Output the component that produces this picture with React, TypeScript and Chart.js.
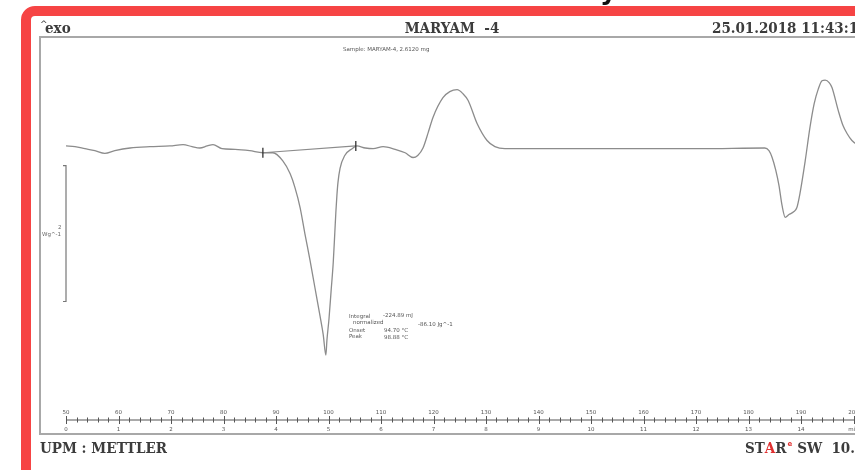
import React, { useEffect, useRef } from "react";
import { Chart, registerables } from "chart.js";

Chart.register(...registerables);

// DSC curve: temperature (°C) and heat flow (W/g)
const temperatures = [
  50.0, 51.7, 53.6, 55.5, 57.4, 59.3, 62.2, 66.0, 69.8, 72.3, 74.0, 75.5, 76.9, 78.0, 79.7, 82.2, 85.0,
  87.5, 89.4, 91.3, 92.7, 93.6, 94.6, 95.5, 96.5, 97.4, 98.4, 99.0, 99.5,
  99.7, 100.1, 100.5, 100.9, 101.2, 101.4, 101.6, 101.8, 102.2, 103.1, 104.5, 105.4,
  107.0, 108.5, 110.4, 112.7, 114.6, 116.1, 117.0, 118.0, 119.0, 119.9, 121.8,
  123.1, 124.5, 125.6, 126.6, 128.3, 130.2, 131.7, 133.6, 147.9, 155.5, 170.8,
  183.1, 183.9, 184.5, 185.2, 185.8, 186.4, 187.0, 187.7, 188.6, 189.2, 189.8,
  190.8, 191.7, 192.5, 193.3, 194.0, 194.6, 195.4, 195.9, 197.1, 198.0, 198.8, 199.7, 200.7, 201.6,
];
const heatFlow = [
  0.04, 0.03, 0.0, -0.03, -0.07, -0.03, 0.01, 0.03, 0.04, 0.06, 0.03, 0.01, 0.04, 0.06, 0.0, -0.01, -0.03,
  -0.06, -0.06, -0.18, -0.37, -0.57, -0.87, -1.25, -1.65, -2.04, -2.47, -2.74, -3.04,
  -2.82, -2.5, -2.09, -1.68, -1.24, -0.94, -0.69, -0.5, -0.29, -0.1, 0.0, 0.04,
  0.01, 0.0, 0.03, -0.01, -0.06, -0.13, -0.1, 0.01, 0.24, 0.46, 0.75,
  0.84, 0.87, 0.81, 0.71, 0.37, 0.12, 0.03, 0.0, 0.0, 0.0, 0.0,
  0.01, -0.03, -0.13, -0.32, -0.54, -0.84, -1.01, -0.97, -0.93, -0.87, -0.66,
  -0.18, 0.31, 0.66, 0.88, 1.0, 1.01, 0.97, 0.9, 0.56, 0.34, 0.22, 0.12, 0.06, 0.03,
];
// integration baseline (onset / end limits)
const baselineT = [87.5, 105.2];
const baselineV = [-0.06, 0.04];

// axis ticks
const tempTicks = [50, 60, 70, 80, 90, 100, 110, 120, 130, 140, 150, 160, 170, 180, 190, 200];
const timeLabels = ["0", "1", "2", "3", "4", "5", "6", "7", "8", "9", "10", "11", "12", "13", "14", "min"];
const minorStep = 2;

// text
const titleText = "MARYAM  -4";
const dateText = "25.01.2018 11:43:1";
const sampleText = "Sample: MARYAM-4, 2.6120 mg";
const footerLeft = "UPM : METTLER";
const annotationLabels = ["Integral", "normalized", "Onset", "Peak"];
const annotationValues = ["-224.89 mJ", "-86.10 Jg^-1", "94.70 °C", "98.88 °C"];
const scaleBarRange = [-0.25, -2.25]; // 2 W/g

const HEAD = '"DejaVu Serif Condensed", "DejaVu Serif", serif';
const SMALL = '"DejaVu Sans", "Liberation Sans", sans-serif';

const decor = {
  id: "decor",
  beforeDraw(chart: any) {
    const ctx = chart.ctx;
    ctx.save();
    ctx.fillStyle = "#ffffff";
    ctx.fillRect(0, 0, chart.width, chart.height);
    ctx.restore();
  },
  afterDraw(chart: any) {
    const ctx = chart.ctx;
    const xs = chart.scales.x;
    const ys = chart.scales.y;
    ctx.save();

    // black glyph fragment above the frame
    ctx.fillStyle = "#111";
    ctx.font = "bold 26px " + SMALL;
    ctx.textBaseline = "alphabetic";
    ctx.textAlign = "left";
    ctx.fillText("y", 600, -1);

    // red frame
    ctx.strokeStyle = "#f64444";
    ctx.lineWidth = 10;
    ctx.beginPath();
    (ctx as any).roundRect(26, 11, 1100, 1000, 9);
    ctx.stroke();

    // gray plot frame
    ctx.strokeStyle = "#a8a8a8";
    ctx.lineWidth = 2;
    ctx.strokeRect(40, 37, 1000, 397);

    // header texts
    ctx.fillStyle = "#3c3c3c";
    ctx.font = "bold 15px " + HEAD;
    ctx.textBaseline = "alphabetic";
    ctx.textAlign = "center";
    ctx.fillText(titleText, 452, 33);
    ctx.textAlign = "left";
    ctx.fillText(dateText, 712, 33);
    ctx.fillText("exo", 45, 33);
    ctx.font = "9px " + SMALL;
    ctx.fillText("^", 40, 27);
    ctx.font = "bold 15px " + HEAD;
    ctx.fillText(footerLeft, 40, 453);
    // STAR(e) SW 10.0
    let fx = 745;
    ctx.fillStyle = "#3c3c3c";
    ctx.fillText("ST", fx, 453);
    fx += ctx.measureText("ST").width;
    ctx.fillStyle = "#e03030";
    ctx.fillText("A", fx, 453);
    fx += ctx.measureText("A").width;
    ctx.fillStyle = "#3c3c3c";
    ctx.fillText("R", fx, 453);
    fx += ctx.measureText("R").width;
    ctx.fillStyle = "#e03030";
    ctx.font = "bold 7px " + SMALL;
    ctx.fillText("e", fx + 1, 446);
    ctx.fillStyle = "#3c3c3c";
    ctx.font = "bold 15px " + HEAD;
    ctx.fillText(" SW  10.0", fx + 6, 453);

    // sample text
    ctx.fillStyle = "#555";
    ctx.font = "5.5px " + SMALL;
    ctx.fillText(sampleText, 343, 51);

    // scale bar
    const sx = xs.getPixelForValue(50);
    const sy1 = ys.getPixelForValue(scaleBarRange[0]);
    const sy2 = ys.getPixelForValue(scaleBarRange[1]);
    ctx.strokeStyle = "#777";
    ctx.lineWidth = 1.2;
    ctx.beginPath();
    ctx.moveTo(sx - 3, sy1);
    ctx.lineTo(sx, sy1);
    ctx.lineTo(sx, sy2);
    ctx.lineTo(sx - 3, sy2);
    ctx.stroke();
    ctx.fillStyle = "#666";
    ctx.font = "5.5px " + SMALL;
    ctx.fillText("2", 58, 229);
    ctx.fillText("Wg^-1", 42, 236);

    // integration limit markers
    ctx.strokeStyle = "#333";
    ctx.lineWidth = 1.3;
    for (let i = 0; i < 2; i++) {
      const mx = xs.getPixelForValue(baselineT[i]);
      const my = ys.getPixelForValue(baselineV[i]);
      ctx.beginPath();
      ctx.moveTo(mx, my - 5);
      ctx.lineTo(mx, my + 5);
      ctx.stroke();
    }

    // annotation
    ctx.fillStyle = "#555";
    ctx.font = "5.5px " + SMALL;
    ctx.fillText(annotationLabels[0], 349, 318);
    ctx.fillText(annotationValues[0], 383, 317);
    ctx.fillText(annotationLabels[1], 353, 324);
    ctx.fillText(annotationValues[1], 418, 326);
    ctx.fillText(annotationLabels[2], 349, 332);
    ctx.fillText(annotationValues[2], 384, 332);
    ctx.fillText(annotationLabels[3], 349, 338);
    ctx.fillText(annotationValues[3], 384, 339);

    // temperature / time axis
    const ay = 420;
    ctx.strokeStyle = "#555";
    ctx.lineWidth = 1;
    ctx.beginPath();
    ctx.moveTo(xs.getPixelForValue(50), ay);
    ctx.lineTo(chart.width, ay);
    ctx.stroke();
    for (let t = 50; t <= 210; t += minorStep) {
      const px = Math.round(xs.getPixelForValue(t)) + 0.5;
      const major = (t - 50) % 10 === 0;
      ctx.beginPath();
      ctx.moveTo(px, major ? ay - 4 : ay - 2.5);
      ctx.lineTo(px, major ? ay + 4 : ay + 2.5);
      ctx.stroke();
    }
    ctx.fillStyle = "#555";
    ctx.font = "5.5px " + SMALL;
    ctx.textAlign = "center";
    tempTicks.forEach((t, i) => {
      const px = xs.getPixelForValue(t);
      ctx.fillText(String(t), px, 414);
      ctx.fillText(timeLabels[i], px, 431);
    });
    ctx.restore();
  },
};

export default function App() {
  const ref = useRef<HTMLCanvasElement | null>(null);
  useEffect(() => {
    if (!ref.current) return;
    const chart = new Chart(ref.current, {
      type: "line",
      data: {
        datasets: [
          {
            data: temperatures.map((t, i) => ({ x: t, y: heatFlow[i] })),
            borderColor: "#8c8c8c",
            borderWidth: 1.3,
            pointRadius: 0,
            cubicInterpolationMode: "monotone",
            fill: false,
          },
          {
            data: baselineT.map((t, i) => ({ x: t, y: baselineV[i] })),
            borderColor: "#8c8c8c",
            borderWidth: 1.2,
            pointRadius: 0,
            fill: false,
          },
        ],
      },
      options: {
        responsive: false,
        animation: false,
        events: [],
        layout: { padding: { left: 66, right: 14, top: 40, bottom: 70 } },
        plugins: { legend: { display: false }, tooltip: { enabled: false }, title: { display: false } },
        scales: {
          x: { type: "linear", min: 50, max: 210, display: false },
          y: { type: "linear", min: -3.7, max: 1.6, display: false },
        },
      },
      plugins: [decor],
    });
    return () => chart.destroy();
  }, []);
  return (
    <div style={{ position: "fixed", left: 0, top: 0, width: 855, height: 470, overflow: "hidden", background: "#fff" }}>
      <canvas ref={ref} width={920} height={470} style={{ display: "block" }} />
    </div>
  );
}
